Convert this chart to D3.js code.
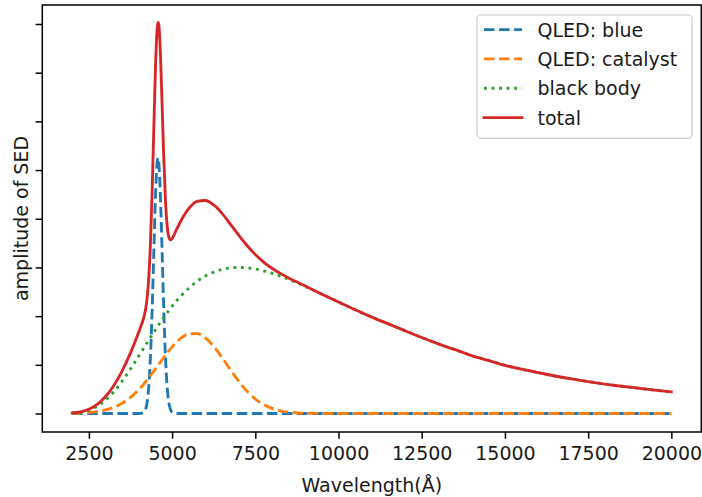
<!DOCTYPE html>
<html>
<head>
<meta charset="utf-8">
<script src="https://cdn.jsdelivr.net/npm/d3@7"></script>
<style>
  html, body { margin: 0; padding: 0; background: #fff; }
  svg { display: block; font-family: "DejaVu Sans", sans-serif; }
</style>
</head>
<body>
<svg id="chart" width="702" height="497"></svg>
<script>
// Wavelength grid (Å), denser around the blue emission line
const wavelength = [
  2000, 2250, 2500, 2750, 3000, 3250, 3500, 3750, 4000,
  4050, 4100, 4150, 4200, 4250, 4300, 4350, 4400, 4450, 4500, 4550, 4575, 4600,
  4650, 4700, 4750, 4800, 4850, 4900, 4950, 5000, 5050, 5100,
  5250, 5500, 5750, 6000, 6250, 6500, 6750, 7000, 7250, 7500, 7750, 8000, 8250, 8500, 8750, 9000,
  9500, 10000, 10500, 11000, 11500, 12000, 12500, 13000, 13500, 14000, 14500, 15000,
  15500, 16000, 16500, 17000, 17500, 18000, 18500, 19000, 19500, 20000
];

const qledBlue = [
  0, 0, 0, 0, 0, 0, 0, 0, 0,
  0.0015, 0.007, 0.025, 0.082, 0.231, 0.560, 1.174, 2.122, 3.306, 4.446, 5.153, 5.25, 5.153,
  4.446, 3.306, 2.122, 1.174, 0.560, 0.231, 0.082, 0.025, 0.007, 0.0015,
  0, 0, 0, 0, 0, 0, 0, 0, 0, 0, 0, 0, 0, 0, 0, 0,
  0, 0, 0, 0, 0, 0, 0, 0, 0, 0, 0, 0,
  0, 0, 0, 0, 0, 0, 0, 0, 0, 0
];

const qledCatalyst = [
  0.004, 0.010, 0.020, 0.039, 0.073, 0.127, 0.211, 0.331, 0.491,
  0.528, 0.566, 0.606, 0.647, 0.690, 0.733, 0.778, 0.823, 0.869, 0.916, 0.963, 0.986, 1.010,
  1.057, 1.104, 1.151, 1.196, 1.241, 1.285, 1.327, 1.367, 1.406, 1.442,
  1.537, 1.634, 1.642, 1.552, 1.378, 1.150, 0.901, 0.663, 0.459, 0.298, 0.182, 0.104, 0.056, 0.028, 0.014, 0.006,
  0.001, 0, 0, 0, 0, 0, 0, 0, 0, 0, 0, 0,
  0, 0, 0, 0, 0, 0, 0, 0, 0, 0
];

const blackBody = [
  0.006, 0.024, 0.067, 0.148, 0.275, 0.449, 0.665, 0.913, 1.181,
  1.236, 1.290, 1.345, 1.399, 1.454, 1.508, 1.562, 1.616, 1.669, 1.721, 1.773, 1.798, 1.824,
  1.874, 1.924, 1.973, 2.021, 2.067, 2.113, 2.157, 2.201, 2.243, 2.285,
  2.402, 2.573, 2.713, 2.823, 2.905, 2.960, 2.990, 3.000, 2.991, 2.968, 2.929, 2.880, 2.822, 2.757, 2.685, 2.611,
  2.45, 2.29, 2.13, 1.98, 1.84, 1.70, 1.56, 1.43, 1.31, 1.19, 1.09, 0.99,
  0.91, 0.84, 0.77, 0.71, 0.655, 0.605, 0.56, 0.52, 0.48, 0.445
];

const total = [
  0.010, 0.034, 0.087, 0.187, 0.348, 0.576, 0.876, 1.244, 1.672,
  1.766, 1.863, 1.976, 2.128, 2.375, 2.801, 3.514, 4.561, 5.844, 7.083, 7.889, 8.034, 7.987,
  7.377, 6.334, 5.246, 4.391, 3.868, 3.629, 3.566, 3.593, 3.656, 3.729,
  3.939, 4.207, 4.355, 4.375, 4.283, 4.110, 3.891, 3.663, 3.450, 3.266, 3.111, 2.984, 2.878, 2.785, 2.699, 2.617,
  2.451, 2.29, 2.13, 1.98, 1.84, 1.70, 1.56, 1.43, 1.31, 1.19, 1.09, 0.99,
  0.91, 0.84, 0.77, 0.71, 0.655, 0.605, 0.56, 0.52, 0.48, 0.445
];

const seriesNames = ["QLED: blue", "QLED: catalyst", "black body", "total"];
const xTicks = [2500, 5000, 7500, 10000, 12500, 15000, 17500, 20000];
const yTicks = [0, 1, 2, 3, 4, 5, 6, 7, 8];

// Plot geometry and styling
const W = 702, H = 497;
const plot = { left: 42.3, right: 701.3, top: 5, bottom: 432 };
const FONT = 19;
const LW = 2.85;
const series = [
  { name: seriesNames[0], values: qledBlue,     color: "#1f77b4", dash: "10.5,4.56", cap: "butt" },
  { name: seriesNames[1], values: qledCatalyst, color: "#ff7f0e", dash: "10.5,4.56", cap: "butt" },
  { name: seriesNames[2], values: blackBody,    color: "#2ca02c", dash: "2.85,4.7",  cap: "butt" },
  { name: seriesNames[3], values: total,        color: "#d62728", dash: null,        cap: "square" }
];

const svg = d3.select("#chart");
svg.append("rect").attr("width", W).attr("height", H).attr("fill", "#fff");

const x = d3.scaleLinear().domain([1100, 20900]).range([plot.left, plot.right]);
const y = d3.scaleLinear().domain([-0.38, 8.39]).range([plot.bottom, plot.top]);

svg.append("defs").append("clipPath").attr("id", "plot-clip")
  .append("rect")
  .attr("x", plot.left).attr("y", plot.top)
  .attr("width", plot.right - plot.left).attr("height", plot.bottom - plot.top);

// Curves
const line = d3.line()
  .x(d => x(d[0]))
  .y(d => y(d[1]))
  .curve(d3.curveMonotoneX);

const curves = svg.append("g").attr("clip-path", "url(#plot-clip)");
series.forEach(s => {
  curves.append("path")
    .datum(wavelength.map((w, i) => [w, s.values[i]]))
    .attr("d", line)
    .attr("fill", "none")
    .attr("stroke", s.color)
    .attr("stroke-width", LW)
    .attr("stroke-dasharray", s.dash)
    .attr("stroke-linecap", s.cap)
    .attr("stroke-linejoin", "round");
});

// Axes
const xAxis = d3.axisBottom(x).tickValues(xTicks).tickFormat(d3.format("d"))
  .tickSize(6.7).tickPadding(7.8);
const gx = svg.append("g").attr("transform", `translate(0,${plot.bottom})`).call(xAxis);
gx.select(".domain").remove();
gx.selectAll(".tick line").attr("stroke", "#000").attr("stroke-width", 1.5);
gx.selectAll(".tick text").attr("fill", "#1a1a1a").style("font-size", FONT + "px")
  .style("font-family", "DejaVu Sans");

const yAxis = d3.axisLeft(y).tickValues(yTicks).tickFormat("").tickSize(6.7);
const gy = svg.append("g").attr("transform", `translate(${plot.left},0)`).call(yAxis);
gy.select(".domain").remove();
gy.selectAll(".tick line").attr("stroke", "#000").attr("stroke-width", 1.5);

// Frame
svg.append("rect")
  .attr("x", plot.left).attr("y", plot.top)
  .attr("width", plot.right - plot.left).attr("height", plot.bottom - plot.top)
  .attr("fill", "none").attr("stroke", "#000").attr("stroke-width", 1.5);

// Axis labels
svg.append("text")
  .attr("x", (plot.left + plot.right) / 2).attr("y", 491.5)
  .attr("text-anchor", "middle").attr("fill", "#1a1a1a")
  .style("font-size", FONT + "px")
  .text("Wavelength(Å)");

svg.append("text")
  .attr("transform", `translate(27.5,${(plot.top + plot.bottom) / 2}) rotate(-90)`)
  .attr("text-anchor", "middle").attr("fill", "#1a1a1a")
  .style("font-size", FONT + "px")
  .text("amplitude of SED");

// Legend
const legend = { left: 477, top: 15, right: 692, bottom: 138.3 };
const lg = svg.append("g");
lg.append("rect")
  .attr("x", legend.left).attr("y", legend.top)
  .attr("width", legend.right - legend.left).attr("height", legend.bottom - legend.top)
  .attr("rx", 4).attr("ry", 4)
  .attr("fill", "rgba(255,255,255,0.8)").attr("stroke", "#cccccc").attr("stroke-width", 1.2);

const rowY = d3.scaleLinear().domain([0, 3]).range([29.6, 117.6]);
series.forEach((s, i) => {
  const yy = rowY(i);
  lg.append("line")
    .attr("x1", 484).attr("x2", 522).attr("y1", yy).attr("y2", yy)
    .attr("stroke", s.color).attr("stroke-width", LW)
    .attr("stroke-dasharray", s.dash).attr("stroke-linecap", s.cap);
  lg.append("text")
    .attr("x", 537.5).attr("y", yy + 7.2)
    .attr("fill", "#1a1a1a").style("font-size", FONT + "px")
    .text(s.name);
});
</script>
</body>
</html>
